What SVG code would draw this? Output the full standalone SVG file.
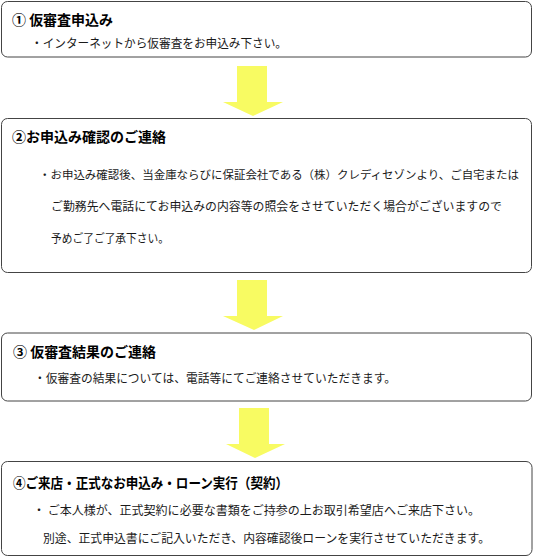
<svg xmlns="http://www.w3.org/2000/svg" width="533" height="557" viewBox="0 0 533 557">
<style>
.box{fill:#fff;stroke:#444;stroke-width:1}
.t{font-family:"Noto Sans CJK JP","Noto Sans CJK SC",sans-serif;font-size:14px;font-weight:bold;fill:#000}
.b{font-family:"Noto Sans CJK JP","Noto Sans CJK SC",sans-serif;font-size:12px;fill:#1a1a1a}
.arrow{fill:#F8FB62;stroke:none}
</style>
<rect width="533" height="557" fill="#fff"/>
<g id="connectors">
<polygon class="arrow" points="237,66 267,66 267,102 283,102 253,116 223,102 237,102"/>
<polygon class="arrow" points="237,280 267,280 267,316 283,316 254,330 223,316 237,316"/>
<polygon class="arrow" points="239,408 269,408 269,444 285,444 255,458 226,444 239,444"/>
</g>
<g id="step1">
<rect class="box" x="1.5" y="1.5" width="530" height="55.5" rx="6"/>
<text class="t" x="12" y="25" textLength="101" lengthAdjust="spacingAndGlyphs">① 仮審査申込み</text>
<text class="b" x="31" y="48" textLength="256" lengthAdjust="spacingAndGlyphs">・インターネットから仮審査をお申込み下さい。</text>
</g>
<g id="step2">
<rect class="box" x="1.5" y="118.5" width="530" height="154" rx="6"/>
<text class="t" x="12" y="142" textLength="154" lengthAdjust="spacingAndGlyphs">②お申込み確認のご連絡</text>
<text class="b" x="39" y="179" font-size="11.4" style="font-size:11.4px" textLength="480" lengthAdjust="spacingAndGlyphs">・お申込み確認後、当金庫ならびに保証会社である（株）クレディセゾンより、ご自宅または</text>
<text class="b" x="51" y="211" textLength="451" lengthAdjust="spacingAndGlyphs">ご勤務先へ電話にてお申込みの内容等の照会をさせていただく場合がございますので</text>
<text class="b" x="51" y="243" textLength="118" lengthAdjust="spacingAndGlyphs">予めご了ご了承下さい。</text>
</g>
<g id="step3">
<rect class="box" x="1.5" y="333" width="530" height="68" rx="6"/>
<text class="t" x="13" y="357" textLength="143" lengthAdjust="spacingAndGlyphs">③ 仮審査結果のご連絡</text>
<text class="b" x="34" y="383" textLength="362" lengthAdjust="spacingAndGlyphs">・仮審査の結果については、電話等にてご連絡させていただきます。</text>
</g>
<g id="step4">
<rect class="box" x="1.5" y="461.5" width="530.5" height="94" rx="6"/>
<text class="t" x="13" y="488" textLength="275" lengthAdjust="spacingAndGlyphs">④ご来店・正式なお申込み・ローン実行（契約）</text>
<text class="b" x="33" y="515" textLength="447" lengthAdjust="spacingAndGlyphs">・ ご本人様が、正式契約に必要な書類をご持参の上お取引希望店へご来店下さい。</text>
<text class="b" x="43" y="543" textLength="447" lengthAdjust="spacingAndGlyphs">別途、正式申込書にご記入いただき、内容確認後ローンを実行させていただきます。</text>
</g>
</svg>
